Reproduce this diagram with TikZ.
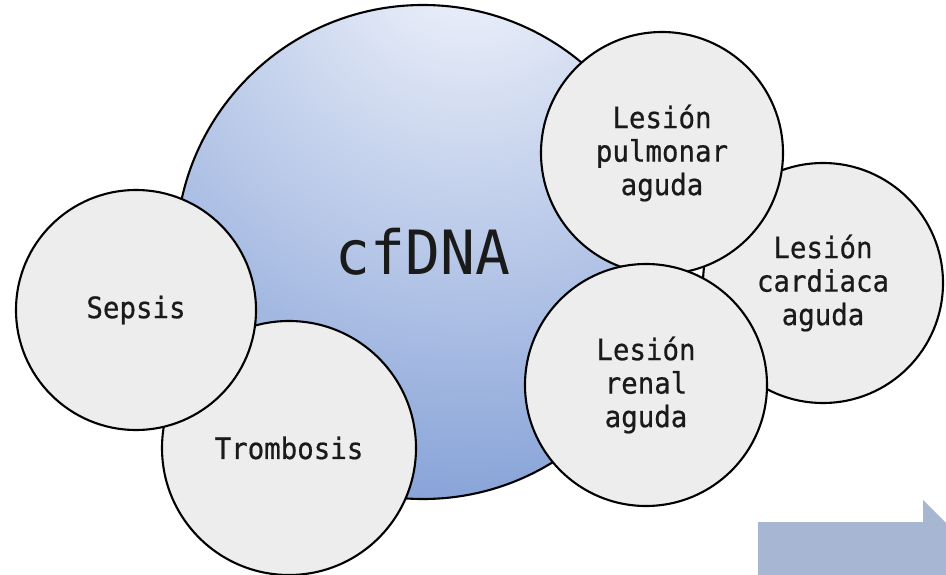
\documentclass[tikz,border=0pt]{standalone}
\usepackage{fontspec}
\newfontfamily\diagfont[FakeStretch=0.93,FakeBold=0.6]{DejaVu Sans Mono}
\newfontfamily\bigfont[FakeStretch=0.95]{DejaVu Sans Mono}
\definecolor{circfill}{HTML}{EDEDED}
\definecolor{bigin}{HTML}{F4F6FC}
\definecolor{bigout}{HTML}{819ED6}
\definecolor{arrowfill}{HTML}{A6B6D3}
\definecolor{txt}{HTML}{1A1A1A}
\begin{document}
\begin{tikzpicture}[x=1pt,y=-1pt,
  outline/.style={line width=2.1pt, draw=black},
  bubble/.style={circle, outline, fill=circfill, inner sep=0pt, align=center,
    font=\diagfont\fontsize{29.5}{33.5}\selectfont, text=txt},
  bigbubble/.style={circle, outline, inner sep=0pt,
    font=\bigfont\fontsize{61}{62}\selectfont, text=txt}]
\useasboundingbox (0,0) rectangle (946,575);
\clip (0,0) rectangle (946,575);
% big circle shading
\begin{scope}
  \clip (423,252) circle (247pt);
  \shade[inner color=bigin, outer color=bigout] (470,-60) circle (600pt);
\end{scope}
\node[bigbubble, minimum size=494pt] (cfdna) at (423,252) {cfDNA};
% left group
\node[bubble, minimum size=254pt] (trombosis) at (289,448) {Trombosis};
\node[bubble, minimum size=240pt] (sepsis) at (136,310) {Sepsis};
% right group
\node[bubble, minimum size=240pt] (cardiaca) at (823,283) {Lesión\\cardiaca\\aguda};
\node[bubble, minimum size=242pt] (pulmonar) at (662,153) {Lesión\\pulmonar\\aguda};
\node[bubble, minimum size=242pt] (renal) at (646,385) {Lesión\\renal\\aguda};
% block arrow (cut by the border)
\fill[arrowfill] (758,522) -- (923,522) -- (923,500) -- (1010,587) -- (923,674)
  -- (923,652) -- (758,652) -- cycle;
\end{tikzpicture}
\end{document}
